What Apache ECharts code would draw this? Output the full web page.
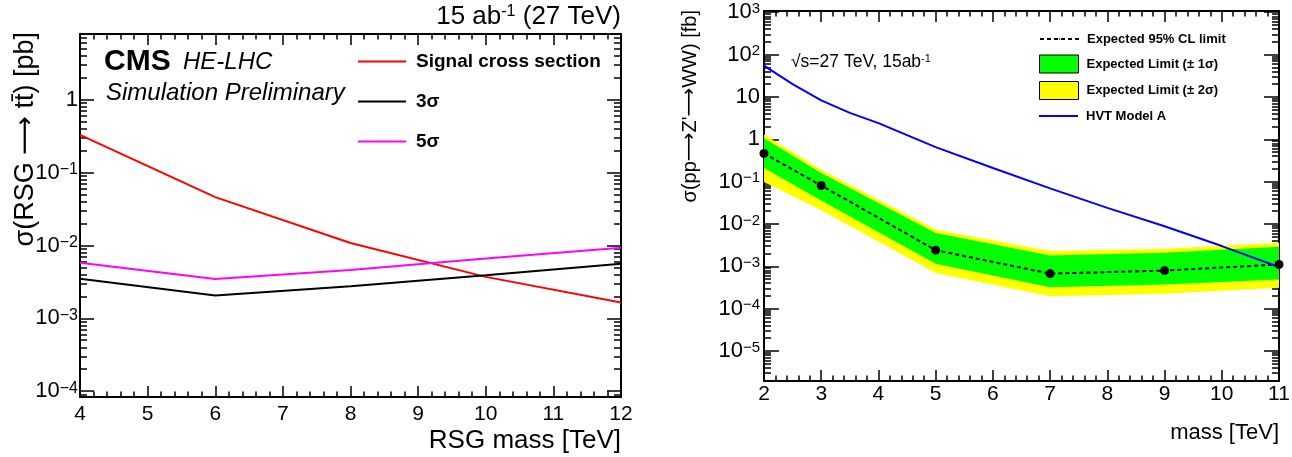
<!DOCTYPE html>
<html>
<head>
<meta charset="utf-8">
<script src="https://cdn.jsdelivr.net/npm/echarts@6/dist/echarts.min.js"></script>
<style>
  html, body { margin: 0; background: #fff; }
  #chart { width: 1292px; height: 457px; }
</style>
</head>
<body>
<div id="chart"></div>
<script>
// left panel: RSG -> ttbar
const rsgMass = [4, 6, 8, 10, 12];
const signalXsec = [0.33, 0.046, 0.0108, 0.0037, 0.00165];
const sigma3 = [0.0035, 0.00205, 0.00275, 0.0039, 0.0056];
const sigma5 = [0.0058, 0.00345, 0.0046, 0.0066, 0.0093];
const leftYMajor = [1e-4, 1e-3, 1e-2, 1e-1, 1];

// right panel: Z' -> WW
const zMass = [2, 3, 5, 7, 9, 11];
const expLimit = [0.46, 0.081, 0.0024, 0.00067, 0.00079, 0.0011];
const band1Lo = [0.21, 0.036, 0.00115, 0.00032, 0.00037, 0.00049];
const band1Hi = [1.05, 0.16, 0.0061, 0.0018, 0.0021, 0.0029];
const band2Lo = [0.098, 0.021, 0.00069, 0.000195, 0.000225, 0.00031];
const band2Hi = [1.3, 0.19, 0.0074, 0.0023, 0.0026, 0.0036];
const hvtMass = [2, 2.5, 3, 3.5, 4, 5, 6, 7, 8, 9, 10, 11];
const hvtXsec = [55, 20, 8.3, 4.2, 2.4, 0.65, 0.21, 0.069, 0.024, 0.0088, 0.003, 0.00096];
const rightYMajor = [1e-5, 1e-4, 1e-3, 1e-2, 1e-1, 1, 10, 100, 1000];

const FONT = '"Liberation Sans", Arial, sans-serif';
const ARROW_FONT = '"DejaVu Sans", sans-serif';
const zip = (xs, ys) => xs.map((x, i) => [x, ys[i]]);

const chart = echarts.init(document.getElementById('chart'));

function logLabel(v) {
  const e = Math.round(Math.log10(v));
  if (e === 0) return '{b|1}';
  if (e === 1) return '{b|10}';
  return '{b|10}{sup|' + (e < 0 ? '\u2212' + (-e) : e) + '}';
}

function logAxes(gridIndex, min, max, majors, fs, supFs, margin, majLen, minLen) {
  const minors = [];
  for (let e = Math.floor(Math.log10(min)); e <= Math.ceil(Math.log10(max)); e++) {
    for (let k = 2; k <= 9; k++) {
      const v = k * Math.pow(10, e);
      if (v > min && v < max) minors.push(v);
    }
  }
  const common = {
    type: 'log', gridIndex, min, max,
    splitLine: { show: false },
    minorTick: { show: false },
    axisLine: { show: true, onZero: false, lineStyle: { color: '#000', width: 2 } }
  };
  const rich = {
    b: { fontSize: fs, lineHeight: fs, verticalAlign: 'bottom', fontFamily: FONT, color: '#000' },
    sup: { fontSize: supFs, lineHeight: supFs, verticalAlign: 'top', padding: [0, 0, 25 - supFs, 0], fontFamily: FONT, color: '#000' }
  };
  const tick = (vals, len) => ({ inside: true, length: len, customValues: vals, lineStyle: { color: '#000', width: 1.5 } });
  return [
    Object.assign({}, common, {
      position: 'left', axisTick: tick(majors, majLen),
      axisLabel: { customValues: majors, formatter: logLabel, rich, margin, fontFamily: FONT, fontSize: fs, color: '#000' }
    }),
    Object.assign({}, common, {
      position: 'left', axisLine: { show: false }, axisTick: tick(minors, minLen), axisLabel: { show: false }
    }),
    Object.assign({}, common, {
      position: 'right', axisTick: tick(majors, majLen), axisLabel: { show: false }
    }),
    Object.assign({}, common, {
      position: 'right', axisLine: { show: false }, axisTick: tick(minors, minLen), axisLabel: { show: false }
    })
  ];
}

function massAxes(gridIndex, min, max, fs, margin) {
  const common = {
    type: 'value', gridIndex, min, max, interval: 1,
    splitLine: { show: false },
    axisLine: { show: true, onZero: false, lineStyle: { color: '#000', width: 2 } },
    axisTick: { inside: true, length: 11, lineStyle: { color: '#000', width: 1.5 } },
    minorTick: { show: true, splitNumber: 5, length: 5.5, lineStyle: { color: '#000', width: 1.5 } }
  };
  return [
    Object.assign({}, common, {
      position: 'bottom',
      axisLabel: { fontSize: fs, color: '#000', margin, fontFamily: FONT }
    }),
    Object.assign({}, common, { position: 'top', axisLabel: { show: false } })
  ];
}

function bandItem(params, api) {
  if (params.dataIndexInside !== 0) return null;
  const n = params.dataInsideLength;
  const upper = [], lower = [];
  for (let j = 0; j < n; j++) {
    upper.push(api.coord([api.value(0, j), api.value(2, j)]));
    lower.unshift(api.coord([api.value(0, j), api.value(1, j)]));
  }
  return {
    type: 'polygon',
    shape: { points: upper.concat(lower) },
    style: { fill: api.visual('color') },
    silent: true
  };
}

const supRich = (size) => ({
  b: { fontSize: size, lineHeight: size, verticalAlign: 'bottom', fontFamily: FONT, color: '#000' },
  sup: { fontSize: Math.round(size * 0.62), lineHeight: Math.round(size * 0.62), verticalAlign: 'top', padding: [0, 0, Math.round(size * 0.5), 0], fontFamily: FONT, color: '#000' }
});
const arrowRich = (size) => ({
  b: { fontSize: size, fontFamily: FONT, color: '#000' },
  a: { fontSize: size, fontFamily: ARROW_FONT, color: '#000' }
});

const legendText = { fontFamily: FONT, fontWeight: 'bold', fontSize: 13, lineHeight: 14, color: '#000', padding: [0, 0, 0, 3] };

const option = {
  animation: false,
  backgroundColor: '#fff',
  textStyle: { fontFamily: FONT },
  grid: [
    { left: 80, top: 34, width: 541, height: 363, outerBoundsMode: 'none' },
    { left: 764, top: 11, width: 515, height: 370, outerBoundsMode: 'none' }
  ],
  xAxis: massAxes(0, 4, 12, 21, 7).concat(massAxes(1, 2, 11, 21, 3)),
  yAxis: logAxes(0, 8.3e-5, 8.0, leftYMajor, 22, 16, 2, 14, 7)
    .concat(logAxes(1, 1.95e-6, 1070, rightYMajor, 22, 15, 4, 15, 7)),
  legend: [
    {
      data: ['Signal cross section', '3σ', '5σ'],
      orient: 'vertical', left: 358, top: 52, padding: 0,
      icon: 'rect', itemWidth: 48, itemHeight: 2, itemGap: 21,
      selectedMode: false,
      textStyle: { fontFamily: FONT, fontWeight: 'bold', fontSize: 19, lineHeight: 18, color: '#000', padding: [0, 0, 0, 5] }
    },
    {
      data: ['Expected 95% CL limit'],
      left: 1039, top: 32, padding: 0, itemWidth: 39, itemHeight: 2,
      selectedMode: false, textStyle: legendText
    },
    {
      data: [
        { name: 'Expected Limit (± 1σ)', itemStyle: { borderColor: '#000', borderWidth: 1 } },
        { name: 'Expected Limit (± 2σ)', itemStyle: { borderColor: '#000', borderWidth: 1 } }
      ],
      orient: 'vertical', left: 1039, top: 54.5, padding: 0,
      icon: 'rect', itemWidth: 39, itemHeight: 18, itemGap: 7.5,
      selectedMode: false, textStyle: legendText
    },
    {
      data: ['HVT Model A'],
      left: 1039, top: 109, padding: 0, icon: 'rect', itemWidth: 39, itemHeight: 2,
      selectedMode: false, textStyle: legendText
    }
  ],
  graphic: [
    { type: 'text', x: 26, y: 32, rotation: Math.PI / 2,
      style: { text: '{b|σ(RSG }{a|⟶}{b| tt\u0304) [pb]}', rich: arrowRich(27), align: 'right', verticalAlign: 'middle' } },
    { type: 'text', x: 621, y: 17,
      style: { text: '{b|15 ab}{sup|-1}{b| (27 TeV)}', rich: supRich(26), align: 'right', verticalAlign: 'middle' } },
    { type: 'text', x: 104, y: 62,
      style: { text: 'CMS', font: 'bold 30px ' + FONT, fill: '#000', verticalAlign: 'middle' } },
    { type: 'text', x: 183, y: 62,
      style: { text: 'HE-LHC', font: 'italic 24px ' + FONT, fill: '#000', verticalAlign: 'middle' } },
    { type: 'text', x: 106, y: 93,
      style: { text: 'Simulation Preliminary', font: 'italic 24px ' + FONT, fill: '#000', verticalAlign: 'middle' } },
    { type: 'text', x: 621, y: 441,
      style: { text: 'RSG mass [TeV]', font: '26px ' + FONT, fill: '#000', align: 'right', verticalAlign: 'middle' } },
    { type: 'text', x: 690, y: 10, rotation: Math.PI / 2,
      style: { text: "{b|σ(pp}{a|⟶}{b|Z'}{a|⟶}{b|WW) [fb]}", rich: arrowRich(20), align: 'right', verticalAlign: 'middle' } },
    { type: 'text', x: 791, y: 62,
      style: { text: '{b|√s=27 TeV, 15ab}{sup|-1}', rich: supRich(17.5), verticalAlign: 'middle' } },
    { type: 'text', x: 1279, y: 433,
      style: { text: 'mass [TeV]', font: '22px ' + FONT, fill: '#000', align: 'right', verticalAlign: 'middle' } }
  ],
  series: [
    { name: 'Signal cross section', type: 'line', xAxisIndex: 0, yAxisIndex: 0,
      data: zip(rsgMass, signalXsec), color: '#ff0000', showSymbol: false, lineStyle: { width: 2 } },
    { name: '3σ', type: 'line', xAxisIndex: 0, yAxisIndex: 0,
      data: zip(rsgMass, sigma3), color: '#000000', showSymbol: false, lineStyle: { width: 2 } },
    { name: '5σ', type: 'line', xAxisIndex: 0, yAxisIndex: 0,
      data: zip(rsgMass, sigma5), color: '#ff00ff', showSymbol: false, lineStyle: { width: 2 } },

    { name: 'Expected Limit (± 2σ)', type: 'custom', xAxisIndex: 2, yAxisIndex: 4,
      data: zMass.map((m, i) => [m, band2Lo[i], band2Hi[i]]),
      encode: { x: 0, y: [1, 2] }, itemStyle: { color: '#ffff00' }, renderItem: bandItem },
    { name: 'Expected Limit (± 1σ)', type: 'custom', xAxisIndex: 2, yAxisIndex: 4,
      data: zMass.map((m, i) => [m, band1Lo[i], band1Hi[i]]),
      encode: { x: 0, y: [1, 2] }, itemStyle: { color: '#00ff00' }, renderItem: bandItem },
    { name: 'Expected 95% CL limit', type: 'line', xAxisIndex: 2, yAxisIndex: 4,
      data: zip(zMass, expLimit), color: '#000', symbol: 'circle', symbolSize: 9,
      lineStyle: { width: 2, type: [4, 3], color: '#000' } },
    { name: 'HVT Model A', type: 'line', xAxisIndex: 2, yAxisIndex: 4,
      data: zip(hvtMass, hvtXsec), color: '#0000ff', showSymbol: false, lineStyle: { width: 2 } }
  ]
};

chart.setOption(option);
</script>
</body>
</html>
